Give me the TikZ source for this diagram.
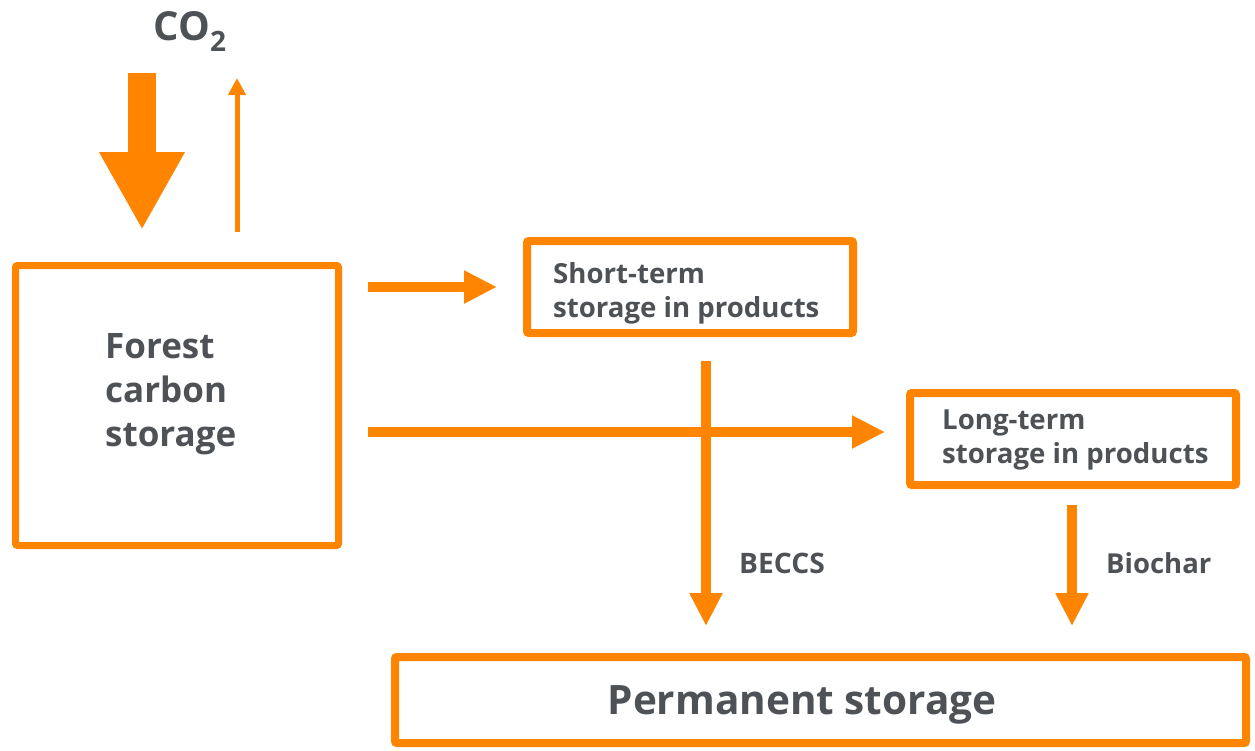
\documentclass[tikz,border=0pt]{standalone}
\usepackage{fontspec}
\setmainfont{Open Sans}
\usetikzlibrary{arrows.meta}
\definecolor{org}{RGB}{255,133,0}
\definecolor{txt}{RGB}{78,82,86}
\begin{document}
\begin{tikzpicture}[x=1pt,y=-1pt,
  box/.style={draw=org,line width=8pt,rounded corners=2pt,inner sep=0pt,fill=white},
  lbl/.style={text=txt,font=\bfseries,inner sep=0pt,anchor=base west},
  flow/.style={draw=org,line width=10pt,-{Triangle[length=33pt,width=31pt]}},
]
\useasboundingbox (0,0) rectangle (1255,750);
% boxes
\node[box,line width=7pt,minimum width=323pt,minimum height=280pt] (forest) at (177,405.5) {};
\node[box,minimum width=326pt,minimum height=92pt] (short) at (690,287) {};
\node[box,minimum width=326pt,minimum height=92pt] (long) at (1073,439) {};
\node[box,minimum width=851pt,minimum height=86pt] (perm) at (820.5,700) {};
% texts
\node[lbl,font=\fontsize{40}{48}\selectfont\bfseries,anchor=base] (co2) at (190,40) {CO\textsubscript{2}};
\node[lbl,font=\fontsize{35}{44}\selectfont\bfseries,align=left,anchor=north west] (forestt) at (105,333) {Forest\\carbon\\storage};
\node[lbl,font=\fontsize{27.6}{34}\selectfont\bfseries,align=left,anchor=north west] (shortt) at (553,262) {Short-term\\storage in products};
\node[lbl,font=\fontsize{27.6}{34}\selectfont\bfseries,align=left,anchor=north west] (longt) at (942,410) {Long-term\\storage in products};
\node[lbl,font=\fontsize{40.5}{50}\selectfont\bfseries,anchor=base] (permt) at (802,714) {Permanent storage};
\node[lbl,font=\fontsize{28.2}{34}\selectfont\bfseries] (beccs) at (739,573) {BECCS};
\node[lbl,font=\fontsize{27.5}{34}\selectfont\bfseries] (biochar) at (1106,573) {Biochar};
% coordinates
\coordinate (inS) at (142,73);
\coordinate (inE) at (142,230);
\coordinate (outS) at (237,232);
\coordinate (outE) at (237,78);
\coordinate (a1S) at (368,287);
\coordinate (a1E) at (497,287);
\coordinate (a2S) at (368,432);
\coordinate (a2E) at (885,432);
\coordinate (a3S) at (706,361);
\coordinate (a3E) at (706,626);
\coordinate (a4S) at (1072,505);
\coordinate (a4E) at (1072,626);
% arrows
\draw[draw=org,line width=28pt,-{Triangle[length=78pt,width=80pt]}] (inS) -- (inE);
\draw[draw=org,line width=5pt,-{Triangle[length=17pt,width=17pt]}] (outS) -- (outE);
\draw[flow] (a1S) -- (a1E);
\draw[flow] (a2S) -- (a2E);
\draw[flow] (a3S) -- (a3E);
\draw[flow] (a4S) -- (a4E);
\end{tikzpicture}
\end{document}
